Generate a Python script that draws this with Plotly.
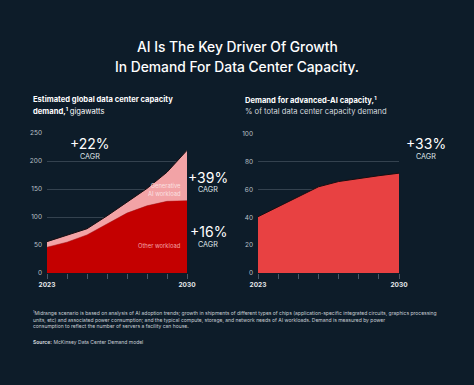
import plotly.graph_objects as go

years = [2023, 2024, 2025, 2026, 2027, 2028, 2029, 2030]
labeled_years = [2023, 2030]
other_workload = [46, 55, 68, 88, 107, 120, 128, 129]
generative_ai = [10, 12, 11, 14, 19, 31, 52, 90]
advanced_ai_share = [40.5, 47.7, 55, 62, 65.8, 68, 70, 71.8]

BG = "#0d1c29"
DARK_RED = "#c40000"
PINK = "#f2a3a6"
RED = "#e84142"
FONT = "Inter"
GRID = "#34424f"
TICKC = "#b9c0c7"

fig = go.Figure()

fig.add_trace(go.Scatter(
    x=years, y=other_workload, stackgroup="a", mode="lines",
    line=dict(color=DARK_RED, width=0.5), fillcolor=DARK_RED,
    xaxis="x", yaxis="y", hoverinfo="skip", showlegend=False))
fig.add_trace(go.Scatter(
    x=years, y=generative_ai, stackgroup="a", mode="lines",
    line=dict(color="#1a0d10", width=1), fillcolor=PINK,
    xaxis="x", yaxis="y", hoverinfo="skip", showlegend=False))
fig.add_trace(go.Scatter(
    x=years, y=advanced_ai_share, mode="lines", fill="tozeroy",
    line=dict(color="#1a0d10", width=1), fillcolor=RED,
    xaxis="x2", yaxis="y2", hoverinfo="skip", showlegend=False))

W, H = 474, 385

def px(x):
    return x / W

def py(y):
    return 1 - y / H

xcommon = dict(range=[2023, 2030], tickvals=labeled_years,
               showgrid=False, zeroline=False, showline=False,
               ticks="outside", ticklen=5, tickcolor="#4a5866", tickwidth=1,
               minor=dict(tickvals=years, ticks="outside", ticklen=5,
                          tickcolor="#4a5866", tickwidth=1, showgrid=False),
               tickfont=dict(family=FONT, size=6.5, color="#e6e9ec", weight="bold"),
               fixedrange=True)
ycommon = dict(showgrid=True, gridcolor=GRID, gridwidth=1, zeroline=False,
               showline=False, ticks="", tickfont=dict(family=FONT, size=6.5, color=TICKC),
               ticklabelstandoff=4, fixedrange=True)

fig.update_layout(
    width=W, height=H,
    paper_bgcolor=BG, plot_bgcolor=BG,
    margin=dict(l=0, r=0, t=0, b=0, autoexpand=False),
    xaxis=dict(domain=[px(47), px(187)], anchor="y", **xcommon),
    yaxis=dict(domain=[py(273), py(133)], anchor="x", range=[0, 250],
               tickvals=[0, 50, 100, 150, 200, 250], **ycommon),
    xaxis2=dict(domain=[px(258), px(399)], anchor="y2", **xcommon),
    yaxis2=dict(domain=[py(273), py(134)], anchor="x2", range=[0, 100],
                tickvals=[0, 20, 40, 60, 80, 100], **ycommon),
)

annotations = []

def txt(x, y, text, size, color="#ffffff", weight="normal", xanchor="center", align="center"):
    annotations.append(dict(
        x=px(x), y=py(y), xref="paper", yref="paper", text=text, showarrow=False,
        xanchor=xanchor, yanchor="middle", align=align,
        font=dict(family=FONT, size=size, color=color, weight=weight)))

# Title
txt(237, 47, "AI Is The Key Driver Of Growth", 13.8, weight=500)
txt(237, 67, "In Demand For Data Center Capacity.", 13.8, weight=500)

# Subtitles
txt(31, 100, "Estimated global data center capacity", 7.6, weight="bold", xanchor="left", align="left")
txt(31, 111, "demand,<sup>1</sup> <span style='font-weight:normal'>gigawatts</span>", 7.6,
    weight="bold", xanchor="left", align="left")
txt(243, 100, "Demand for advanced-AI capacity,<sup>1</sup>", 7.6, weight="bold", xanchor="left", align="left")
txt(243, 111, "% of total data center capacity demand", 7.6, color="#d4d9de", xanchor="left", align="left")

# CAGR labels
for (x, y, big) in [(90, 143, "+22%"), (208, 177, "+39%"), (208, 231, "+16%"), (426, 143, "+33%")]:
    txt(x, y, big, 14)
    txt(x, y + 13, "CAGR", 7.2, color="#dfe3e7")

# In-chart labels
txt(183, 189, "Generative<br>AI workload", 5.8, color="#fbe0e1", xanchor="right", align="right")
txt(183, 245, "Other workload", 5.8, color="#f5a3a6", xanchor="right", align="right")

# Footnote
foot = ("<sup>1</sup>Midrange scenario is based on analysis of AI adoption trends; growth in shipments of different types of chips (application-specific integrated circuits, graphics processing<br>"
        "units, etc) and associated power consumption; and the typical compute, storage, and network needs of AI workloads. Demand is measured by power<br>"
        "consumption to reflect the number of servers a facility can house.")
annotations.append(dict(x=px(31), y=py(319), xref="paper", yref="paper", text=foot,
                        showarrow=False, xanchor="left", yanchor="middle", align="left",
                        font=dict(family=FONT, size=5.0, color="#c9cfd5")))
txt(31, 342, "<b>Source:</b> McKinsey Data Center Demand model", 5.0, color="#c9cfd5",
    xanchor="left", align="left")

fig.update_layout(annotations=annotations)

fig.write_html("out.html",
               config={"displayModeBar": False, "staticPlot": True},
               post_script="document.body.style.margin='0';document.body.style.padding='0';"
                           "document.body.style.background='#0d1c29';"
                           "document.body.style.overflow='hidden';")
